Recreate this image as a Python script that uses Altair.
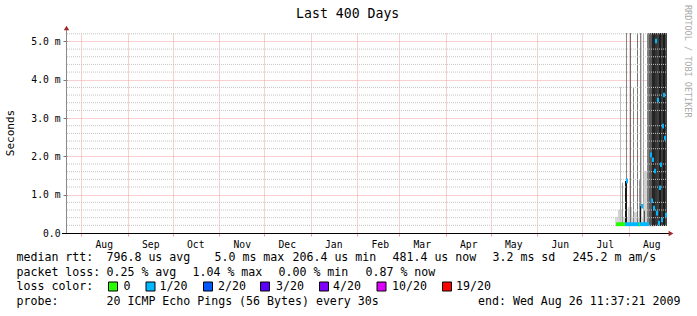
import altair as alt
import pandas as pd

MONO = "DejaVu Sans Mono"

# ---------------- data ----------------
title_text = "Last 400 Days"
y_title = "Seconds"
credit_text = "RRDTOOL / TOBI OETIKER"

range_start = "2008-07-22 11:37"
range_end = "2009-08-26 11:37"

month_starts = ["2008-08-01", "2008-09-01", "2008-10-01", "2008-11-01", "2008-12-01",
                "2009-01-01", "2009-02-01", "2009-03-01", "2009-04-01", "2009-05-01",
                "2009-06-01", "2009-07-01", "2009-08-01"]
y_major = [0, 1, 2, 3, 4, 5]
y_minor = [0.2, 0.4, 0.6, 0.8, 1.2, 1.4, 1.6, 1.8, 2.2, 2.4, 2.6, 2.8,
           3.2, 3.4, 3.6, 3.8, 4.2, 4.4, 4.6, 4.8, 5.2]

# smoke (spread of the 20 pings per step), ms; density 0 = light, 1 = dark
smoke_start = ["2009-07-22 19:37", "2009-07-24 19:37", "2009-07-31 11:37", "2009-08-04 11:37",
               "2009-07-26 03:37", "2009-07-27 11:37", "2009-07-30 03:37", "2009-07-29 11:37",
               "2009-08-01 19:37", "2009-08-03 19:37", "2009-08-06 11:37", "2009-08-07 19:37",
               "2009-08-08 11:37", "2009-08-08 11:37", "2009-08-09 03:37", "2009-08-10 11:37",
               "2009-08-10 11:37", "2009-08-11 03:37",
               "2009-08-13 03:37", "2009-08-14 11:37", "2009-08-16 11:37", "2009-08-18 11:37",
               "2009-08-19 19:37", "2009-08-21 03:37", "2009-08-22 11:37", "2009-08-23 19:37",
               "2009-08-25 03:37"]
smoke_end = ["2009-08-13 03:37", "2009-07-28 03:37", "2009-08-03 03:37", "2009-08-07 03:37",
             "2009-07-26 19:37", "2009-07-28 03:37", "2009-07-30 19:37", "2009-07-30 19:37",
             "2009-08-02 11:37", "2009-08-04 11:37", "2009-08-07 03:37", "2009-08-08 11:37",
             "2009-08-09 03:37", "2009-08-09 03:37", "2009-08-09 19:37", "2009-08-13 03:37",
             "2009-08-11 03:37", "2009-08-11 19:37",
             "2009-08-14 11:37", "2009-08-16 11:37", "2009-08-18 11:37", "2009-08-19 19:37",
             "2009-08-21 03:37", "2009-08-22 11:37", "2009-08-23 19:37", "2009-08-25 03:37",
             "2009-08-26 11:37"]
smoke_lo = [0.18, 0.18, 0.18, 0.18,
            0.2, 0.2, 0.2, 0.2,
            0.2, 0.2, 0.2, 0.2,
            0.2, 0.2, 0.2, 0.2,
            0.2, 0.2,
            0.18, 0.18, 0.18, 0.18, 0.18, 0.18, 0.18, 0.18, 0.18]
smoke_hi = [0.42, 0.60, 0.68, 0.55,
            3.81, 1.31, 5.4, 1.36,
            5.4, 3.78, 5.4, 1.38,
            5.4, 0.70, 5.4, 1.62,
            5.4, 0.58,
            5.4, 5.4, 5.4, 5.4, 5.4, 5.4, 5.4, 5.4, 5.4]
smoke_density = [0.05, 0.09, 0.11, 0.08,
                 0.17, 0.36, 0.45, 0.96,
                 0.56, 0.45, 0.52, 0.36,
                 0.45, 0.98, 0.10, 0.09,
                 0.29, 0.68,
                 0.48, 0.66, 0.90, 0.83, 0.78, 0.94, 0.80, 0.95, 0.75]

# median rtt, ms, with packet loss class
median_start = ["2009-07-23 11:37", "2009-07-29 11:37", "2009-08-07 19:37", "2009-08-08 11:37"]
median_end = ["2009-07-29 11:37", "2009-08-07 19:37", "2009-08-08 11:37", "2009-08-14 11:37"]
median_value = [0.23, 0.23, 0.22, 0.23]
median_loss = ["0", "1/20", "0", "1/20"]

tick_time = ["2009-07-30 03:37", "2009-08-09 03:37", "2009-08-15 03:37", "2009-08-15 19:37",
             "2009-08-16 11:37", "2009-08-17 03:37", "2009-08-17 19:37", "2009-08-18 11:37",
             "2009-08-19 03:37", "2009-08-19 19:37", "2009-08-20 11:37", "2009-08-21 03:37",
             "2009-08-21 19:37", "2009-08-22 11:37", "2009-08-23 03:37", "2009-08-23 19:37",
             "2009-08-24 11:37", "2009-08-25 03:37"]
tick_value = [1.36, 0.70, 2.04, 0.84, 1.91, 0.65, 1.62, 5.01, 0.52, 3.47, 0.26, 1.18,
              1.78, 0.34, 2.79, 3.60, 2.48, 0.47]
tick_loss = ["1/20"] * 18

loss_labels = ["0", "1/20", "2/20", "3/20", "4/20", "10/20", "19/20"]
loss_colors = ["#26ff00", "#00b8ff", "#0059ff", "#5e00ff", "#7e00ff", "#dd00ff", "#ff0000"]

stats_rtt = ["median rtt:", "796.8 us avg", "5.0 ms max", "206.4 us min",
             "481.4 us now", "3.2 ms sd", "245.2 m am/s"]
stats_loss = ["packet loss:", "0.25 % avg", "1.04 % max", "0.00 % min", "0.87 % now"]
loss_row_label = "loss color:"
probe_row = ["probe:", "20 ICMP Echo Pings (56 Bytes) every 30s",
             "end: Wed Aug 26 11:37:21 2009"]

# ---------------- layout ----------------
PL, PT, PW, PH = 67, 33, 600, 200
rtt_x = [16.5, 106.5, 214.5, 292.5, 392.5, 492.5, 572.5]
loss_x = [16.5, 106.5, 192.5, 278.5, 365.5]
box_x = [108.5, 146, 203.5, 260.5, 319.5, 377, 442.5]
box_label_x = [123.5, 159.5, 218, 276, 333, 392, 456]
probe_x = [16.5, 106.5, 478]
row_y = [261, 275.5, 290, 304.5]


def iso(s):
    return s.replace(" ", "T") + ":21Z"


def dt(s):
    parts = s.split(" ")
    y, m, dd = map(int, parts[0].split("-"))
    if len(parts) > 1:
        hh, mm = map(int, parts[1].split(":"))
        return alt.DateTime(year=y, month=m, date=dd, hours=hh, minutes=mm, seconds=21, utc=True)
    return alt.DateTime(year=y, month=m, date=dd, utc=True)


x_scale = alt.Scale(type="utc", domain=[dt(range_start), dt(range_end)])
y_scale = alt.Scale(domain=[0, 5.22], nice=False, zero=False)

x_axis = alt.Axis(values=[dt(m) for m in month_starts],
                  labelExpr="utcFormat(datum.value, '%b')",
                  labelOffset=22.5, labelAlign="center", labelFlush=False,
                  labelFont=MONO, labelFontSize=9.7, labelColor="#000",
                  labelPadding=3, tickSize=3, tickColor="#f0a0a0",
                  grid=True, gridColor="#f0a0a0", gridDash=[1, 1], gridOpacity=1,
                  domain=False, labelOverlap=False, title=None)
y_axis = alt.Axis(values=y_major,
                  labelExpr="datum.value == 0 ? '0.0' : format(datum.value, '.1f') + ' m'",
                  labelFont=MONO, labelFontSize=9.7, labelColor="#000",
                  labelPadding=3, tickSize=4, tickColor="#777",
                  grid=True, gridColor="#f0a0a0", gridDash=[1, 1], gridOpacity=1,
                  domain=False, title=None)

smoke_df = pd.DataFrame({"t0": [iso(s) for s in smoke_start], "t1": [iso(s) for s in smoke_end],
                         "lo": smoke_lo, "hi": smoke_hi, "density": smoke_density})
median_df = pd.DataFrame({"t0": [iso(s) for s in median_start], "t1": [iso(s) for s in median_end],
                          "v": median_value, "loss": median_loss})
tick_df = pd.DataFrame({"t0": [iso(s) for s in tick_time], "v": tick_value, "loss": tick_loss})
minor_df = pd.DataFrame({"t0": [iso(range_start)] * len(y_minor),
                         "t1": [iso(range_end)] * len(y_minor), "lo": y_minor})

one = alt.Data(values=[{"a": 1}])

smoke = alt.Chart(smoke_df).mark_rect(clip=True).encode(
    x=alt.X("t0:T", scale=x_scale, axis=x_axis),
    x2="t1:T",
    y=alt.Y("lo:Q", scale=y_scale, axis=y_axis),
    y2="hi:Q",
    color=alt.Color("density:Q", legend=None,
                    scale=alt.Scale(domain=[0, 1], range=["#e6e6e6", "#101010"], interpolate="rgb")),
)

minor_grid = alt.Chart(minor_df).mark_rule(
    color="#c4c4c4", strokeDash=[1, 1], strokeWidth=1
).encode(
    x=alt.X("t0:T", scale=x_scale, axis=x_axis), x2="t1:T",
    y=alt.Y("lo:Q", scale=y_scale, axis=y_axis),
)

loss_scale = alt.Scale(domain=loss_labels, range=loss_colors)

medians = alt.Chart(median_df).transform_calculate(
    lo="datum.v - 0.05", hi="datum.v + 0.05"
).mark_rect(clip=True).encode(
    x=alt.X("t0:T", scale=x_scale, axis=x_axis), x2="t1:T",
    y=alt.Y("lo:Q", scale=y_scale, axis=y_axis), y2="hi:Q",
    color=alt.Color("loss:N", scale=loss_scale, legend=None),
)

ticks = alt.Chart(tick_df).transform_calculate(
    t1="time(toDate(datum.t0)) + 2 * 57600000", lo="datum.v - 0.06", hi="datum.v + 0.06"
).mark_rect(clip=True).encode(
    x=alt.X("t0:T", scale=x_scale, axis=x_axis), x2="t1:T",
    y=alt.Y("lo:Q", scale=y_scale, axis=y_axis), y2="hi:Q",
    color=alt.Color("loss:N", scale=loss_scale, legend=None),
)

layers = [smoke, minor_grid, medians, ticks]

# axis lines and arrows
layers.append(alt.Chart(one).mark_rule(color="#888", strokeWidth=1).encode(
    x=alt.value(-0.5), y=alt.value(-3), y2=alt.value(PH)))
layers.append(alt.Chart(one).mark_rule(color="#000", strokeWidth=1).encode(
    x=alt.value(-5), x2=alt.value(603), y=alt.value(PH + 0.5)))
layers.append(alt.Chart(one).mark_point(shape="triangle-up", filled=True, size=30, opacity=1,
                                        color="#a02828").encode(
    x=alt.value(-0.5), y=alt.value(-5)))
layers.append(alt.Chart(one).mark_point(shape="triangle-right", filled=True, size=30, opacity=1,
                                        color="#a02828").encode(
    x=alt.value(604), y=alt.value(PH + 0.5)))


def text_layer(s, x, y, size=11.6, align="left", baseline="alphabetic", color="#000", angle=0):
    return alt.Chart(one).mark_text(
        align=align, baseline=baseline, font=MONO, fontSize=size, color=color, angle=angle
    ).encode(x=alt.value(x - PL), y=alt.value(y - PT), text=alt.value(s))


layers.append(text_layer(title_text, 347.7, 18, size=13.2, align="center"))
layers.append(text_layer(y_title, 11, 133, size=11, align="center", baseline="middle", angle=270))
layers.append(text_layer(credit_text, 687.5, 5, size=8.5, baseline="middle", color="#aaaaaa", angle=90))

for s, x in zip(stats_rtt, rtt_x):
    layers.append(text_layer(s, x, row_y[0]))
for s, x in zip(stats_loss, loss_x):
    layers.append(text_layer(s, x, row_y[1]))
layers.append(text_layer(loss_row_label, 16.5, row_y[2]))
for lab, col, bx, lx in zip(loss_labels, loss_colors, box_x, box_label_x):
    layers.append(alt.Chart(one).mark_rect(stroke="#000", strokeWidth=1).encode(
        x=alt.value(bx - PL), x2=alt.value(bx + 9 - PL),
        y=alt.value(282 - PT), y2=alt.value(291 - PT), color=alt.value(col)))
    layers.append(text_layer(lab, lx, row_y[2]))
for s, x in zip(probe_row, probe_x):
    layers.append(text_layer(s, x, row_y[3]))

chart = alt.layer(*layers).resolve_scale(color="independent").properties(
    width=PW, height=PH,
    padding={"left": PL, "top": PT, "right": 697 - PL - PW, "bottom": 316 - PT - PH},
    autosize=alt.AutoSizeParams(type="none"),
    background="white",
).configure_view(stroke=None)

chart.save("out.html", embed_options={"renderer": "svg", "actions": False})
